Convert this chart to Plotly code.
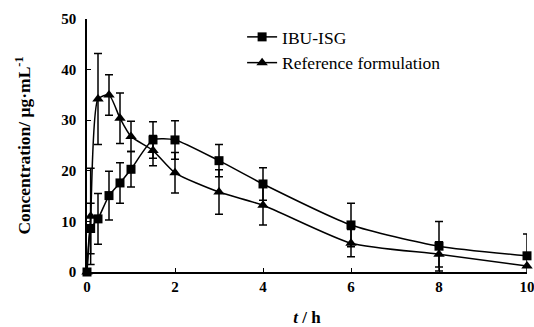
import plotly.graph_objects as go

time_isg = [0, 0.083, 0.25, 0.5, 0.75, 1, 1.5, 2, 3, 4, 6, 8, 10]
conc_isg = [0, 8.6, 10.5, 15.1, 17.6, 20.3, 26.1, 26.1, 22.0, 17.4, 9.3, 5.1, 3.2]
err_isg = [0, 5.0, 5.0, 4.8, 4.0, 3.5, 3.6, 3.8, 3.2, 3.2, 4.3, 4.9, 4.3]

time_ref = [0, 0.083, 0.25, 0.5, 0.75, 1, 1.5, 2, 3, 4, 6, 8, 10]
conc_ref = [0, 11.0, 34.2, 35.0, 30.4, 26.8, 24.0, 19.6, 15.8, 13.2, 5.7, 3.5, 1.2]
err_ref = [0, 9.5, 9.0, 4.0, 5.0, 3.0, 3.0, 4.0, 4.4, 3.9, 2.7, 2.5, 0]

x_ticks = [0, 2, 4, 6, 8, 10]
y_ticks = [0, 10, 20, 30, 40, 50]

font_family = "Liberation Serif"

fig = go.Figure()
fig.add_trace(go.Scatter(
    x=time_isg, y=conc_isg, name="IBU-ISG", mode="lines+markers",
    line=dict(color="black", width=1.5, shape="spline", smoothing=0.6),
    marker=dict(symbol="square", size=9, color="black"),
    error_y=dict(type="data", array=err_isg, color="black", thickness=1.5, width=4),
    cliponaxis=False,
))
fig.add_trace(go.Scatter(
    x=time_ref, y=conc_ref, name="Reference formulation", mode="lines+markers",
    line=dict(color="black", width=1.5, shape="spline", smoothing=0.6),
    marker=dict(symbol="triangle-up", size=10, color="black"),
    error_y=dict(type="data", array=err_ref, color="black", thickness=1.5, width=4),
    cliponaxis=False,
))

fig.update_layout(
    width=534, height=327,
    margin=dict(l=87, r=7, t=19, b=55),
    plot_bgcolor="white", paper_bgcolor="white",
    font=dict(family=font_family, color="black"),
    showlegend=True,
    legend=dict(x=0.3525, y=1.0, xanchor="left", yanchor="top",
                font=dict(family=font_family, size=17.5, color="black"),
                bgcolor="rgba(0,0,0,0)", tracegroupgap=0),
    xaxis=dict(range=[0, 10], tickvals=x_ticks, ticks="inside", ticklen=4,
               tickcolor="black", showline=True, linecolor="black", linewidth=1.5,
               showgrid=False, zeroline=False, automargin=False,
               ticklabeloverflow="allow",
               tickfont=dict(family=font_family, size=15, color="black", weight="bold"),
               title=dict(text="<b><i>t</i> / h</b>", font=dict(family=font_family, size=17), standoff=18)),
    yaxis=dict(range=[0, 50], tickvals=y_ticks, ticks="inside", ticklen=4,
               tickcolor="black", showline=True, linecolor="black", linewidth=1.5,
               showgrid=False, zeroline=False, ticklabelstandoff=6, automargin=False,
               tickfont=dict(family=font_family, size=15, color="black", weight="bold"),
               title=dict(text="<b>Concentration/ μg·mL<sup>-1</sup></b>", font=dict(family=font_family, size=17.5), standoff=26)),
)

fig.write_html("out.html", config={"displayModeBar": False},
               post_script="document.body.style.margin='0';document.body.style.overflow='hidden';")
